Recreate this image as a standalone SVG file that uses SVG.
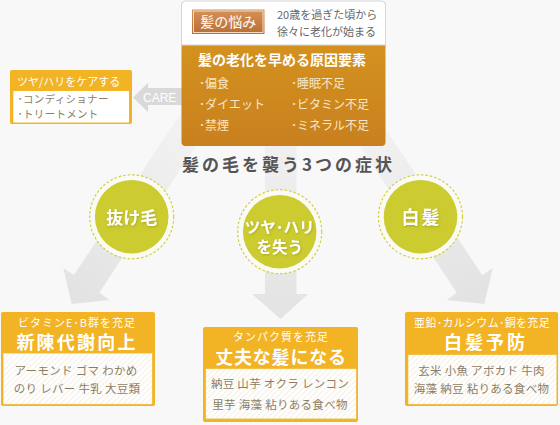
<svg xmlns="http://www.w3.org/2000/svg" width="560" height="425" viewBox="0 0 560 425">
<defs>
<style>
.jp{font-family:"Noto Sans CJK JP","Noto Sans",sans-serif;}
.w{fill:#ffffff;}
.g{fill:#666666;}
.tan{fill:#8c7e66;}
.lt{fill:#f7e7c6;}
.ob{fill:#f2b324;}
.sym{font-weight:bold;fill:#ffffff;}
.ring{fill:#fbfbf6;stroke:#d5cd3a;stroke-width:1.2;stroke-dasharray:2.5 2;}
.dot{fill:#cccc30;}
</style>
<linearGradient id="gOr" x1="0" y1="0" x2="0" y2="1">
<stop offset="0" stop-color="#d9991f"/>
<stop offset="1" stop-color="#c8801e"/>
</linearGradient>
<linearGradient id="gLbl" x1="0" y1="0" x2="0" y2="1">
<stop offset="0" stop-color="#d6925a"/>
<stop offset="1" stop-color="#b86e34"/>
</linearGradient>
<linearGradient id="gArL" gradientUnits="userSpaceOnUse" x1="190" y1="115" x2="80" y2="295">
<stop offset="0" stop-color="#f3f3f3"/>
<stop offset="1" stop-color="#e3e3e3"/>
</linearGradient>
<linearGradient id="gArR" gradientUnits="userSpaceOnUse" x1="366" y1="115" x2="476" y2="295">
<stop offset="0" stop-color="#f3f3f3"/>
<stop offset="1" stop-color="#e3e3e3"/>
</linearGradient>
<linearGradient id="gArM" gradientUnits="userSpaceOnUse" x1="0" y1="145" x2="0" y2="318">
<stop offset="0" stop-color="#f0f0f0"/>
<stop offset="1" stop-color="#e3e3e3"/>
</linearGradient>
<pattern id="hatch" width="4" height="4" patternUnits="userSpaceOnUse" patternTransform="rotate(45)">
<rect width="4" height="4" fill="#ffffff"/>
<rect width="1.2" height="4" fill="#f6f1e6"/>
</pattern>
<filter id="sh" x="-20%" y="-20%" width="140%" height="140%">
<feDropShadow dx="0.8" dy="1" stdDeviation="0.8" flood-color="#7a7a10" flood-opacity="0.45"/>
</filter>
</defs>
<rect width="560" height="425" fill="#f8f8f8"/>

<g id="connectors">
<polygon points="184,108 74,275 63.3,268.3 71.7,304 109.3,300 99.3,292.7 209.3,125.7" fill="url(#gArL)"/>
<polygon points="372,108 482,275 492.7,268.3 484.3,304 446.7,300 456.7,292.7 346.7,125.7" fill="url(#gArR)"/>
<polygon points="265,140 265,294 252,294 280.5,319 308,294 296.5,294 296.5,140" fill="url(#gArM)"/>
<polygon points="182,88 148,88 148,83 133,97.5 148,112 148,105 182,105" fill="#d9d9d9"/>
<text x="143" y="101.5" font-family="Liberation Sans,Arial,sans-serif" font-size="12" fill="#ffffff">CARE</text>
</g>

<g id="cause-box">
<rect x="181.5" y="1" width="204" height="145" rx="4" fill="url(#gOr)"/>
<path d="M185.5,1 H381.5 A4,4 0 0 1 385.5,5 V45 H181.5 V5 A4,4 0 0 1 185.5,1 Z" fill="#ffffff" stroke="#d6d6d6" stroke-width="1"/>
<rect x="192" y="9.5" width="72.5" height="24.5" fill="url(#gLbl)"/>
<rect x="193.5" y="11" width="69.5" height="21.5" fill="none" stroke="#f4dcc6" stroke-width="1"/>
<text x="228.3" y="27" class="jp w" font-size="14" text-anchor="middle">髪の悩み</text>
<text x="277" y="18.5" class="jp g" font-size="11">20歳を過ぎた頃から</text>
<text x="277" y="36" class="jp g" font-size="11">徐々に老化が始まる</text>
<text x="198" y="65" class="jp w" font-size="14" font-weight="bold">髪の老化を早める原因要素</text>
<text x="199" y="88" class="jp lt" font-size="12">･偏食</text>
<text x="199" y="109" class="jp lt" font-size="12">･ダイエット</text>
<text x="199" y="130" class="jp lt" font-size="12">･禁煙</text>
<text x="291" y="88" class="jp lt" font-size="12">･睡眠不足</text>
<text x="291" y="109" class="jp lt" font-size="12">･ビタミン不足</text>
<text x="291" y="130" class="jp lt" font-size="12">･ミネラル不足</text>
</g>

<g id="care-box">
<rect x="10" y="70" width="122" height="54" rx="2" class="ob"/>
<rect x="13.3" y="91" width="115.7" height="31.5" fill="#ffffff"/>
<text x="17" y="85.5" class="jp w" font-size="11">ツヤ/ハリをケアする</text>
<text x="17.5" y="103" class="jp tan" font-size="10.5" letter-spacing="0.3">･コンディショナー</text>
<text x="17.5" y="117.5" class="jp tan" font-size="10.5" letter-spacing="0.3">･トリートメント</text>
</g>

<g id="title">
<text x="182" y="171" class="jp" font-size="17" font-weight="bold" fill="#555555" letter-spacing="3">髪の毛を襲う3つの症状</text>
</g>

<g id="symptom-hairloss">
<circle cx="131.7" cy="216.8" r="42" class="ring"/>
<circle cx="131.7" cy="216.8" r="36.8" class="dot"/>
<text x="131.7" y="223.5" class="jp sym" font-size="17" text-anchor="middle" filter="url(#sh)">抜け毛</text>
</g>

<g id="symptom-gloss">
<circle cx="279.7" cy="231.7" r="42" class="ring"/>
<circle cx="279.7" cy="231.7" r="36.8" class="dot"/>
<text x="279.7" y="233" class="jp sym" font-size="15.5" text-anchor="middle" filter="url(#sh)">ツヤ･ハリ</text>
<text x="279.7" y="252.5" class="jp sym" font-size="15.5" text-anchor="middle" filter="url(#sh)">を失う</text>
</g>

<g id="symptom-gray">
<circle cx="420.5" cy="216.8" r="42" class="ring"/>
<circle cx="420.5" cy="216.8" r="36.8" class="dot"/>
<text x="421.5" y="223.5" class="jp sym" font-size="18" text-anchor="middle" letter-spacing="2" filter="url(#sh)">白髪</text>
</g>

<g id="box-metabolism">
<rect x="1" y="312" width="154" height="94" rx="2" class="ob"/>
<rect x="3.5" y="353.5" width="148.5" height="50.5" fill="url(#hatch)" stroke="#f8e8c0" stroke-width="0.5"/>
<text x="77" y="326.5" class="jp w" font-size="11" text-anchor="middle" letter-spacing="1">ビタミンE･B群を充足</text>
<text x="77" y="348.5" class="jp w" font-size="18" font-weight="bold" text-anchor="middle" letter-spacing="2.2">新陳代謝向上</text>
<text x="76" y="374.5" class="jp tan" font-size="11.5" text-anchor="middle" letter-spacing="0.3">アーモンド ゴマ わかめ</text>
<text x="77" y="392.5" class="jp tan" font-size="11.5" text-anchor="middle" letter-spacing="0.3">のり レバー 牛乳 大豆類</text>
</g>

<g id="box-strong">
<rect x="203" y="327" width="155" height="95" rx="2" class="ob"/>
<rect x="206" y="369" width="150" height="49.5" fill="url(#hatch)" stroke="#f8e8c0" stroke-width="0.5"/>
<text x="281" y="340.5" class="jp w" font-size="11" text-anchor="middle" letter-spacing="1">タンパク質を充足</text>
<text x="281" y="363.5" class="jp w" font-size="18" font-weight="bold" text-anchor="middle" letter-spacing="0.8">丈夫な髪になる</text>
<text x="280" y="388" class="jp tan" font-size="11.5" text-anchor="middle" letter-spacing="0.3">納豆 山芋 オクラ レンコン</text>
<text x="280" y="408.5" class="jp tan" font-size="11.5" text-anchor="middle" letter-spacing="0.3">里芋 海藻 粘りある食べ物</text>
</g>

<g id="box-graycare">
<rect x="405" y="312" width="153" height="94" rx="2" class="ob"/>
<rect x="408.3" y="355" width="148" height="49" fill="url(#hatch)" stroke="#f8e8c0" stroke-width="0.5"/>
<text x="482" y="326.5" class="jp w" font-size="11" text-anchor="middle" letter-spacing="0.3">亜鉛･カルシウム･銅を充足</text>
<text x="486" y="348.5" class="jp w" font-size="18" font-weight="bold" text-anchor="middle" letter-spacing="3">白髪予防</text>
<text x="481.5" y="374.5" class="jp tan" font-size="11.5" text-anchor="middle" letter-spacing="0.3">玄米 小魚 アボカド 牛肉</text>
<text x="481.5" y="392.5" class="jp tan" font-size="11.5" text-anchor="middle" letter-spacing="0.3">海藻 納豆 粘りある食べ物</text>
</g>
</svg>
